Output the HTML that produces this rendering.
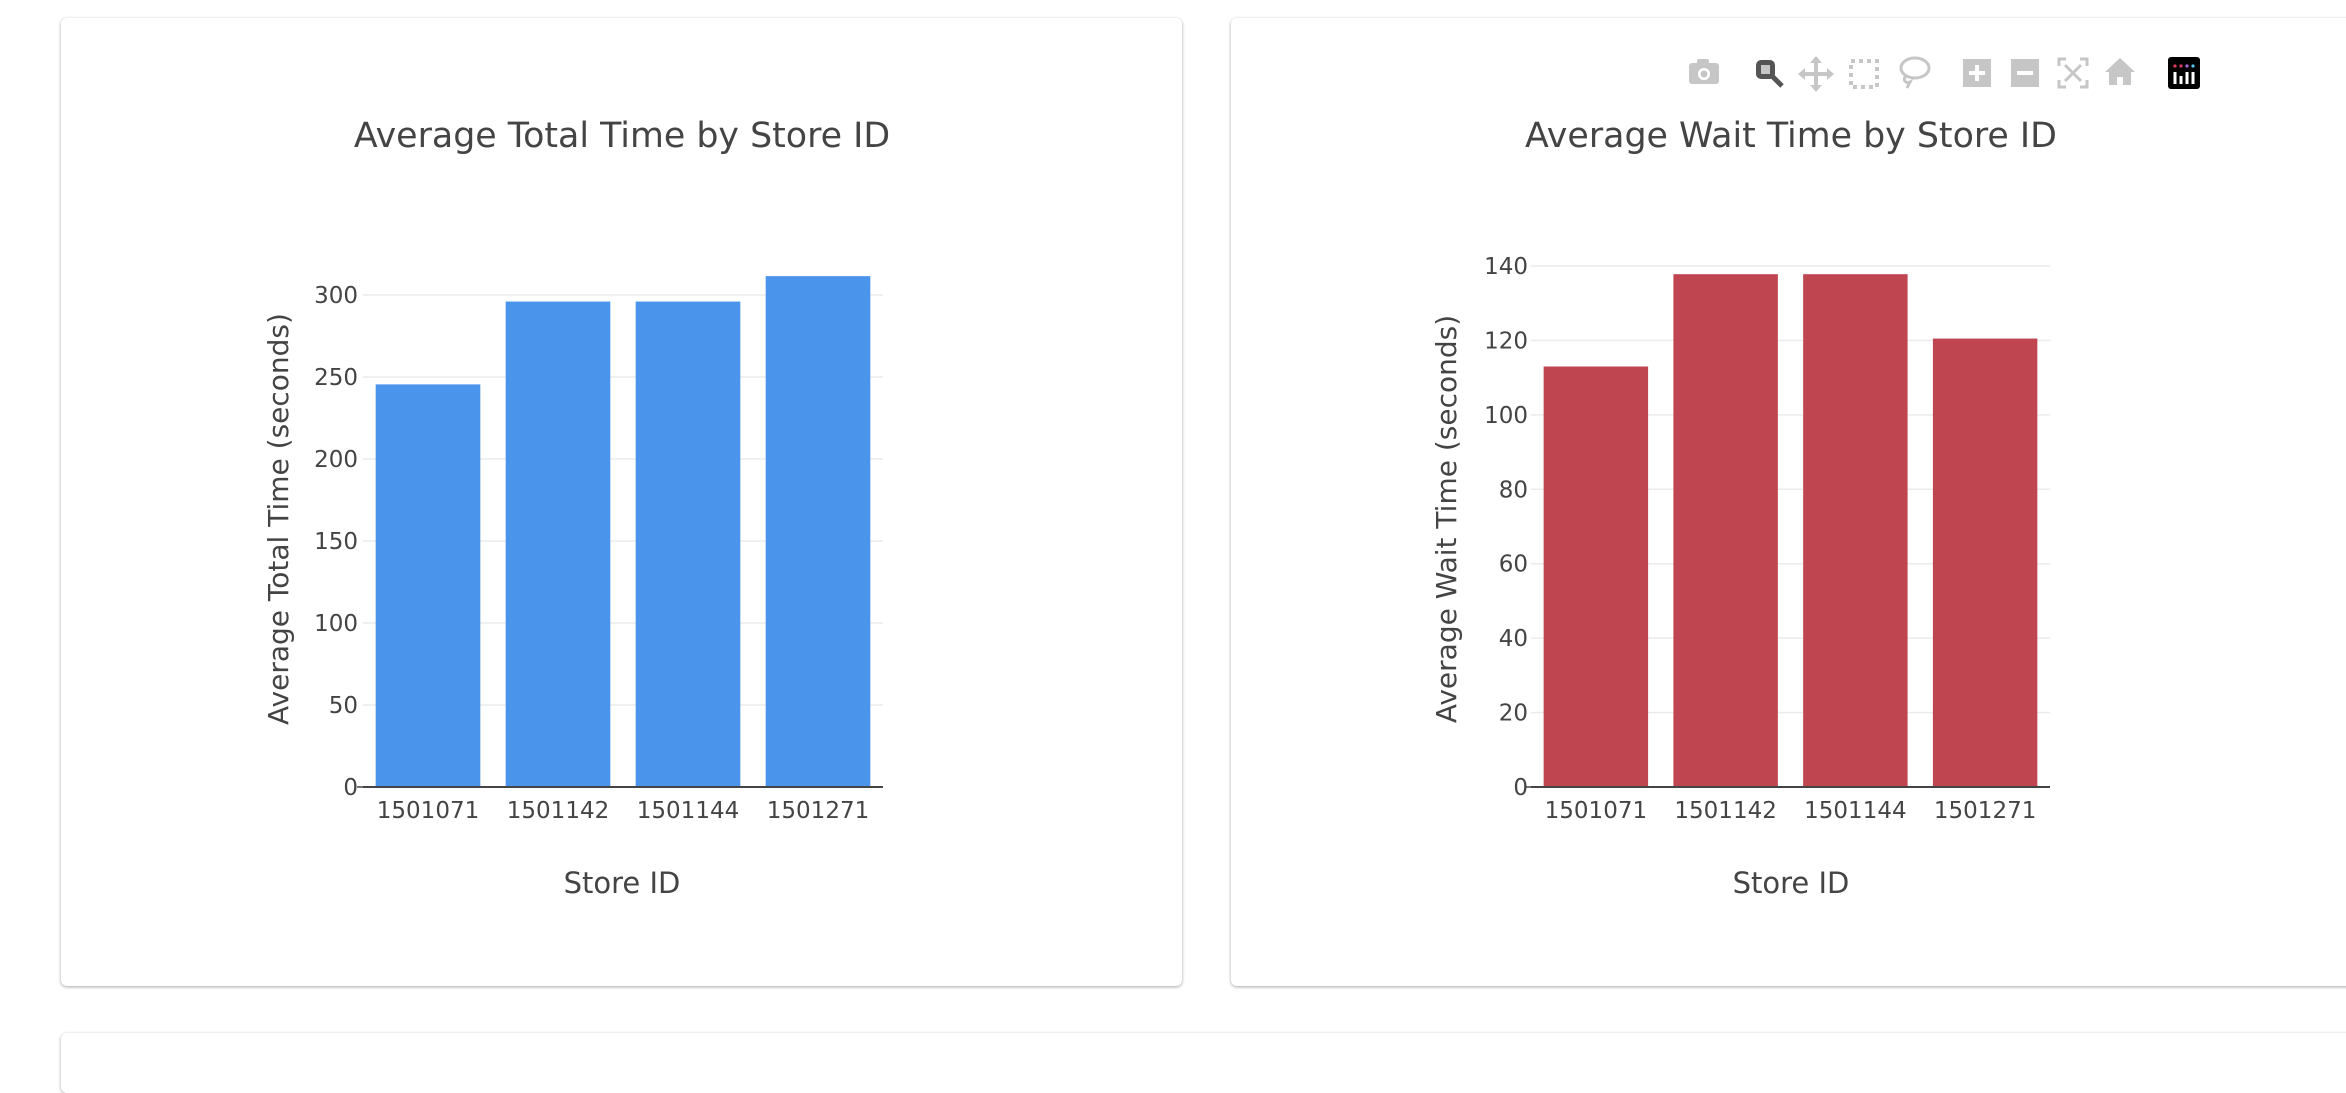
<!DOCTYPE html>
<html><head><meta charset="utf-8">
<style>
html,body{margin:0;padding:0;width:2346px;height:1050px;overflow:hidden;background:#fff;font-family:"DejaVu Sans","Liberation Sans",sans-serif;}
.card{position:absolute;background:#fff;border-radius:6px;box-shadow:0 1px 3px rgba(0,0,0,0.35);}
svg{position:absolute;left:0;top:0;}
</style></head>
<body>
<div class="card" style="left:61px;top:18px;width:1121px;height:968px;"></div>
<div class="card" style="left:1231px;top:18px;width:1140px;height:968px;"></div>
<div class="card" style="left:61px;top:1033px;width:2310px;height:60px;"></div>
<svg id="chart" width="2346" height="1050"></svg>
<script>
const categories = ["1501071","1501142","1501144","1501271"];
const totalValues = [245.5, 296, 296, 311.5];
const waitValues = [113, 137.8, 137.8, 120.5];
const totalTicks = [0,50,100,150,200,250,300];
const waitTicks = [0,20,40,60,80,100,120,140];

const NS="http://www.w3.org/2000/svg";
const svg=document.getElementById('chart');
function mk(tag,attrs,parent){const e=document.createElementNS(NS,tag);for(const k in attrs)e.setAttribute(k,attrs[k]);(parent||svg).appendChild(e);return e;}

function drawChart(cfg){
  const g=mk('g',{});
  
  
  const x0=cfg.x0,x1=cfg.x1,y0=787;
  const yScale=v=>y0-(v/cfg.yMax)*(y0-cfg.yTop);
  const band=(x1-x0)/categories.length;
  const xScale=i=>x0+band*i;
  cfg.ticks.forEach(t=>{
    const y=yScale(t);
    if(t>0){const gl=mk('line',{x1:x0,x2:x1,y1:y,y2:y,stroke:'#ebebeb','stroke-width':1.5},g);
      
      }
    const tl=mk('text',{x:x0-cfg.tickPad,y:y+8,'text-anchor':'end','font-size':23,fill:'#444'},g);
    tl.textContent=t;
    
    
  });
  mk('line',{x1:x0-6,x2:x0,y1:y0,y2:y0,stroke:'#444','stroke-width':1.5},g);
  cfg.values.forEach((v,i)=>{
    const bw=band*0.805;
    const r=mk('rect',{x:xScale(i)+band*0.0975,y:yScale(v),width:bw,height:y0-yScale(v),fill:cfg.color},g);
    
    
    const xl=mk('text',{x:xScale(i)+band/2,y:y0+31,'text-anchor':'middle','font-size':23,fill:'#444'},g);
    xl.textContent=categories[i];
    
    
  });
  mk('line',{x1:x0,x2:x1,y1:y0,y2:y0,stroke:'#444','stroke-width':2},g);
  const t=mk('text',{x:cfg.titleX,y:147,'text-anchor':'middle','font-size':34.8,fill:'#444'},g);
  t.textContent=cfg.title;
  
  
  const xt=mk('text',{x:cfg.titleX,y:893,'text-anchor':'middle','font-size':29,fill:'#444'},g);
  xt.textContent='Store ID';
  
  
  const yt=mk('text',{x:0,y:0,'text-anchor':'middle','font-size':28,fill:'#444',transform:`translate(${cfg.yTitleX},519) rotate(-90)`},g);
  yt.textContent=cfg.yTitle;
  
  
}
drawChart({name:'total-time-chart',x0:363,x1:883,yMax:300,yTop:295,ticks:totalTicks,values:totalValues,color:'#4a94ec',title:'Average Total Time by Store ID',titleX:622,yTitle:'Average Total Time (seconds)',yTitleX:288,tickPad:5});
drawChart({name:'wait-time-chart',x0:1531,x1:2050,yMax:140,yTop:266,ticks:waitTicks,values:waitValues,color:'#bf4550',title:'Average Wait Time by Store ID',titleX:1791,yTitle:'Average Wait Time (seconds)',yTitleX:1456,tickPad:3});
</script>
<svg width="2346" height="120" style="pointer-events:none">
 <g fill="#c6c6c6"><rect x="1689" y="63" width="30" height="21" rx="3"/><rect x="1697" y="59" width="12" height="6" rx="2"/><circle cx="1704" cy="74" r="6" fill="#fff"/><circle cx="1704" cy="74" r="3.5"/></g>
 <g><rect x="1756" y="60" width="19" height="19" rx="5" fill="#555"/><rect x="1761" y="65" width="9" height="9" fill="#c6c6c6"/><line x1="1773" y1="77" x2="1782" y2="86" stroke="#555" stroke-width="5"/></g>
 <g stroke="#c6c6c6" stroke-width="4" fill="#c6c6c6"><line x1="1816" y1="60" x2="1816" y2="88"/><line x1="1802" y1="74" x2="1830" y2="74"/><path d="M1816 56l-6 7h12zM1816 92l-6-7h12zM1798 74l7-6v12zM1834 74l-7-6v12z" stroke="none"/></g>
 <rect x="1851" y="61" width="26" height="26" fill="none" stroke="#c6c6c6" stroke-width="4" stroke-dasharray="4 4"/>
 <g fill="none" stroke="#c6c6c6" stroke-width="3"><ellipse cx="1915" cy="68" rx="14" ry="10"/><path d="M1906 76c-4 4 0 8 4 6l-3 6"/></g>
 <g><rect x="1963" y="59" width="28" height="28" fill="#c6c6c6"/><path d="M1977 65v16M1969 73h16" stroke="#fff" stroke-width="4"/></g>
 <g><rect x="2011" y="59" width="28" height="28" fill="#c6c6c6"/><path d="M2017 73h16" stroke="#fff" stroke-width="4"/></g>
 <g stroke="#c6c6c6" stroke-width="3" fill="none"><path d="M2059 66v-7h7M2080 59h7v7M2087 80v7h-7M2066 87h-7v-7M2065 65l16 16M2081 65l-16 16"/></g>
 <path d="M2120 58l-15 14h4v13h8v-8h6v8h8v-13h4z" fill="#c6c6c6"/>
 <g><rect x="2168" y="57" width="32" height="32" rx="3" fill="#000"/><path d="M2175 72v12M2181 76v8M2187 72v12M2193 72v12" stroke="#fff" stroke-width="3"/><circle cx="2175" cy="66" r="1.6" fill="#e03a60"/><circle cx="2181" cy="66" r="1.6" fill="#e03a60"/><circle cx="2187" cy="66" r="1.6" fill="#b06ad8"/><circle cx="2193" cy="66" r="1.6" fill="#5ac8e8"/></g>
</svg>
</body></html>
